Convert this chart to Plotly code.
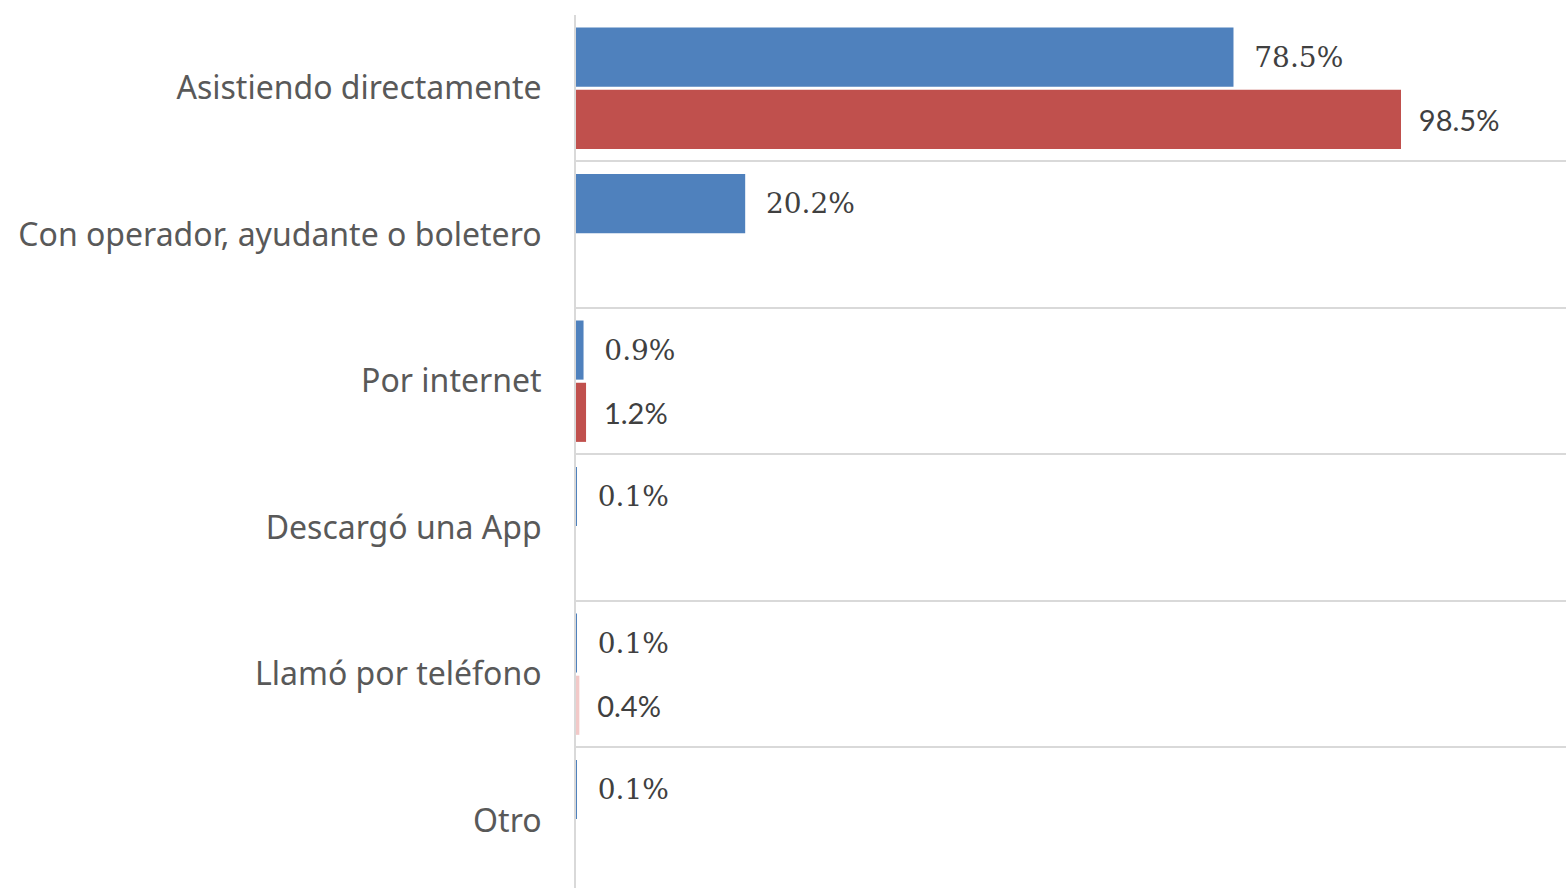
import plotly.graph_objects as go

categories = ["Asistiendo directamente", "Con operador, ayudante o boletero", "Por internet",
              "Descargó una App", "Llamó por teléfono", "Otro"]
serie_azul = [78.5, 20.2, 0.9, 0.1, 0.1, 0.1]
serie_roja = [98.5, None, 1.2, None, 0.4, None]

BLUE = "#4F81BD"
RED = "#C0504D"
SP = "\u00a0\u00a0"

fig = go.Figure()
fig.add_trace(go.Bar(
    y=categories, x=serie_azul, orientation="h", name="A",
    marker=dict(color=BLUE, line=dict(width=0)),
    text=[None if v is None else f"{SP}{v:.1f}%" for v in serie_azul],
    textposition="outside", cliponaxis=False,
    textfont=dict(family="DejaVu Serif", size=28, color="#404040"),
))
fig.add_trace(go.Bar(
    y=categories, x=serie_roja, orientation="h", name="B",
    marker=dict(color=[RED, RED, RED, RED, "#F2C9C8", RED], line=dict(width=0)),
    text=[None if v is None else f"{SP}{v:.1f}%" for v in serie_roja],
    textposition="outside", cliponaxis=False,
    textfont=dict(family="Lato", size=29, color="#404040"),
))

fig.update_layout(
    width=1566, height=888,
    margin=dict(l=576, r=0, t=15, b=0, pad=0),
    paper_bgcolor="white", plot_bgcolor="white",
    barmode="group", bargap=0.15, bargroupgap=0.05,
    showlegend=False,
)
fig.update_xaxes(range=[0, 118.2], visible=False, showgrid=False, zeroline=False)
fig.update_yaxes(
    type="category", range=[5.46, -0.5], tickson="boundaries",
    showgrid=True, gridcolor="#D9D9D9", gridwidth=2,
    showline=True, linecolor="#D9D9D9", linewidth=2,
    ticks="", ticklabelstandoff=26,
    tickfont=dict(family="Noto Sans", size=32, color="#595959"),
)

fig.write_html(
    "out.html",
    config={"displayModeBar": False},
    post_script="document.body.style.margin='0';document.body.style.overflow='hidden';",
)
